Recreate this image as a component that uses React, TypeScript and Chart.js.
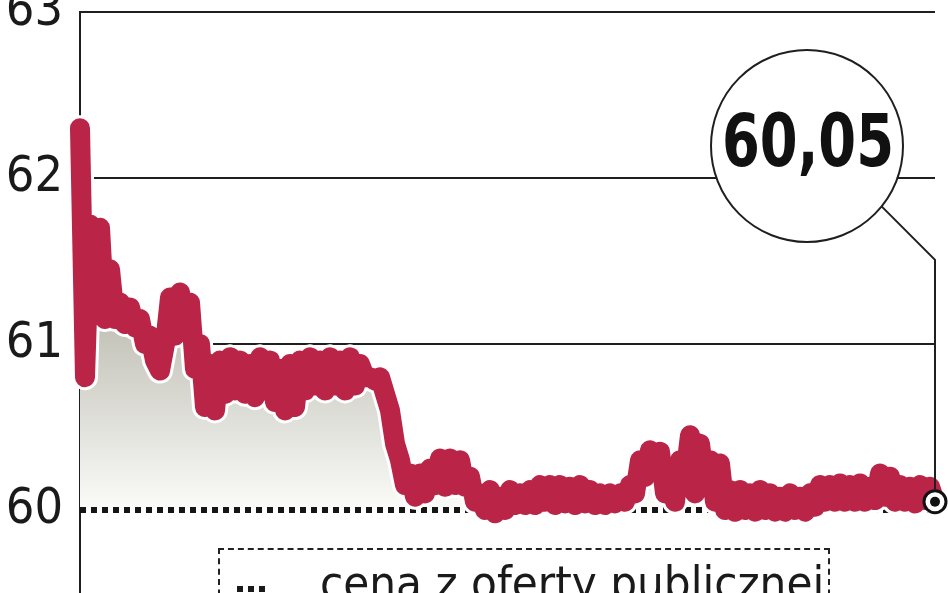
import React, { useEffect, useRef } from 'react';
import { Chart, registerables } from 'chart.js';

Chart.register(...registerables);

// Intraday price (PLN), left to right
const price: number[] = [
  62.30, 60.80, 61.72, 61.20, 61.70, 61.15, 61.45, 61.15, 61.25, 61.12,
  61.22, 61.10, 61.15, 61.00, 61.05, 60.90, 60.84, 61.00, 61.28, 61.05,
  61.31, 61.10, 61.25, 60.85, 61.00, 60.62, 60.88, 60.60, 60.90, 60.70,
  60.92, 60.72, 60.90, 60.70, 60.88, 60.68, 60.92, 60.72, 60.90, 60.65,
  60.85, 60.60, 60.88, 60.62, 60.90, 60.72, 60.92, 60.75, 60.90, 60.72,
  60.92, 60.75, 60.90, 60.72, 60.92, 60.75, 60.88, 60.80, 60.80, 60.78,
  60.80, 60.70, 60.60, 60.40, 60.30, 60.15, 60.22, 60.08, 60.22, 60.10,
  60.25, 60.15, 60.31, 60.14, 60.31, 60.15, 60.30, 60.14, 60.20, 60.05,
  60.10, 60.00, 60.12, 59.98, 60.08, 60.00, 60.12, 60.03, 60.10, 60.03,
  60.12, 60.03, 60.15, 60.05, 60.15, 60.03, 60.15, 60.04, 60.14, 60.03,
  60.15, 60.04, 60.12, 60.03, 60.10, 60.03, 60.10, 60.04, 60.10, 60.05,
  60.15, 60.10, 60.30, 60.20, 60.36, 60.25, 60.35, 60.10, 60.20, 60.05,
  60.30, 60.20, 60.45, 60.10, 60.40, 60.15, 60.30, 60.05, 60.28, 60.00,
  60.12, 59.99, 60.12, 60.00, 60.10, 59.99, 60.12, 60.00, 60.10, 59.99,
  60.08, 59.99, 60.10, 60.00, 60.08, 59.99, 60.10, 60.02, 60.15, 60.05,
  60.15, 60.05, 60.16, 60.05, 60.15, 60.05, 60.16, 60.05, 60.14, 60.06,
  60.22, 60.08, 60.20, 60.05, 60.15, 60.05, 60.14, 60.04, 60.15, 60.06,
  60.14, 60.05,
];

const yTicks: number[] = [60, 61, 62, 63];
const offerPrice = 60; // cena z oferty publicznej
const calloutText = '60,05';
const legendText = 'cena z oferty publicznej';

const RED = '#B92447';
const INK = '#1f1f1f';

export default function App() {
  const ref = useRef<HTMLCanvasElement>(null);

  useEffect(() => {
    const canvas = ref.current;
    if (!canvas) return;
    const labels = price.map((_, i) => String(i));
    const last = price.length - 1;
    const markerData = price.map((v, i) => (i === last ? v : null));
    const offerLine = price.map(() => offerPrice);

    const callout = {
      id: 'callout',
      afterDatasetsDraw(chart: any) {
        const c = chart.ctx as CanvasRenderingContext2D;
        const xs = chart.scales.x;
        const ys = chart.scales.y;
        const px = xs.getPixelForValue(last);
        const py = ys.getPixelForValue(price[last]);
        const cx = chart.chartArea.right - 128;
        const cy = ys.getPixelForValue(62) - 32;
        const r = 96;
        c.save();
        // connector
        const ang = (39 * Math.PI) / 180;
        const sx = cx + r * Math.cos(ang);
        const sy = cy + r * Math.sin(ang);
        const bendY = sy + (px - sx);
        c.strokeStyle = INK;
        c.lineWidth = 2;
        c.beginPath();
        c.moveTo(sx, sy);
        c.lineTo(px, bendY);
        c.lineTo(px, py - 12);
        c.stroke();
        // bubble
        c.beginPath();
        c.arc(cx, cy, r, 0, Math.PI * 2);
        c.fillStyle = '#ffffff';
        c.fill();
        c.lineWidth = 2;
        c.strokeStyle = INK;
        c.stroke();
        // text
        c.font = 'bold 73px "DejaVu Sans Condensed", "DejaVu Sans", sans-serif';
        c.fillStyle = '#111';
        c.textAlign = 'center';
        c.textBaseline = 'alphabetic';
        const w = c.measureText(calloutText).width;
        const k = Math.min(1, 172 / w);
        c.translate(cx + 1, cy + 20);
        c.scale(k, 1);
        c.fillText(calloutText, 0, 0);
        c.restore();
      },
    };

    const chart = new Chart(canvas, {
      type: 'line',
      data: {
        labels,
        datasets: [
          {
            label: 'dot',
            data: markerData,
            order: 0,
            showLine: false,
            pointRadius: 5,
            pointBackgroundColor: '#111',
            pointBorderWidth: 0,
            clip: false,
          } as any,
          {
            label: 'marker',
            data: markerData,
            order: 1,
            showLine: false,
            pointRadius: 11,
            pointBackgroundColor: '#ffffff',
            pointBorderColor: '#111',
            pointBorderWidth: 3,
            clip: false,
          } as any,
          {
            label: 'kurs',
            data: price,
            order: 2,
            borderColor: RED,
            borderWidth: 20,
            borderJoinStyle: 'round',
            borderCapStyle: 'round',
            pointRadius: 0,
            tension: 0,
            fill: false,
            clip: false,
          } as any,
          {
            label: 'outline',
            data: price,
            order: 3,
            borderColor: '#ffffff',
            borderWidth: 26,
            borderJoinStyle: 'round',
            borderCapStyle: 'round',
            pointRadius: 0,
            tension: 0,
            fill: false,
            clip: false,
          } as any,
          {
            label: legendText,
            data: offerLine,
            order: 4,
            borderColor: '#151515',
            borderWidth: 6,
            borderDash: [6, 5],
            borderCapStyle: 'butt',
            pointRadius: 0,
            fill: false,
          } as any,
          {
            label: 'area',
            data: price,
            order: 5,
            borderWidth: 0,
            pointRadius: 0,
            tension: 0,
            fill: { value: offerPrice },
            backgroundColor: (ctx: any) => {
              const ch = ctx.chart;
              if (!ch.chartArea) return 'rgba(200,200,190,0.8)';
              const ys = ch.scales.y;
              const g = ch.ctx.createLinearGradient(0, ys.getPixelForValue(61.1), 0, ys.getPixelForValue(60));
              g.addColorStop(0, '#c3c3b9');
              g.addColorStop(1, '#fbfbf9');
              return g;
            },
          } as any,
        ],
      },
      options: {
        animation: false,
        responsive: false,
        maintainAspectRatio: false,
        events: [],
        layout: { autoPadding: false, padding: { top: 12, right: 13, bottom: 0, left: 0 } },
        plugins: {
          legend: { display: false },
          tooltip: { enabled: false },
        },
        scales: {
          x: {
            type: 'category',
            display: false,
            offset: false,
          },
          y: {
            min: 59.5,
            max: 63,
            afterBuildTicks: (axis: any) => {
              axis.ticks = yTicks.map((v) => ({ value: v }));
            },
            afterFit: (scale: any) => {
              scale.width = 80;
              scale.paddingTop = 0;
              scale.paddingBottom = 0;
            },
            border: { display: true, color: INK, width: 2 },
            grid: {
              drawTicks: false,
              lineWidth: 2,
              color: (ctx: any) => (ctx.tick && ctx.tick.value === offerPrice ? 'rgba(0,0,0,0)' : INK),
            },
            ticks: {
              padding: 17,
              color: '#1a1a1a',
              font: { family: "'DejaVu Sans Condensed', sans-serif", size: 50 },
              callback: (v: any) => String(v),
            },
          },
        },
      },
      plugins: [callout],
    } as any);

    return () => chart.destroy();
  }, []);

  return (
    <div
      style={{
        position: 'fixed',
        left: 0,
        top: 0,
        width: 948,
        height: 593,
        overflow: 'hidden',
        background: '#ffffff',
      }}
    >
      <canvas ref={ref} width={948} height={593} style={{ position: 'absolute', left: 0, top: 0 }} />
      <div
        style={{
          position: 'absolute',
          left: 218,
          top: 548,
          width: 612,
          height: 120,
          border: '2px dashed #222',
          boxSizing: 'border-box',
        }}
      />
      <div
        style={{
          position: 'absolute',
          left: 237,
          top: 586,
          width: 30,
          height: 6,
          background: 'repeating-linear-gradient(to right, #1a1a1a 0 6px, transparent 6px 11px)',
        }}
      />
      <div
        style={{
          position: 'absolute',
          left: 320,
          top: 559,
          whiteSpace: 'nowrap',
          fontFamily: "'DejaVu Sans Condensed', 'DejaVu Sans', sans-serif",
          fontSize: 47,
          lineHeight: '47px',
          color: '#1a1a1a',
        }}
      >
        {legendText}
      </div>
    </div>
  );
}
